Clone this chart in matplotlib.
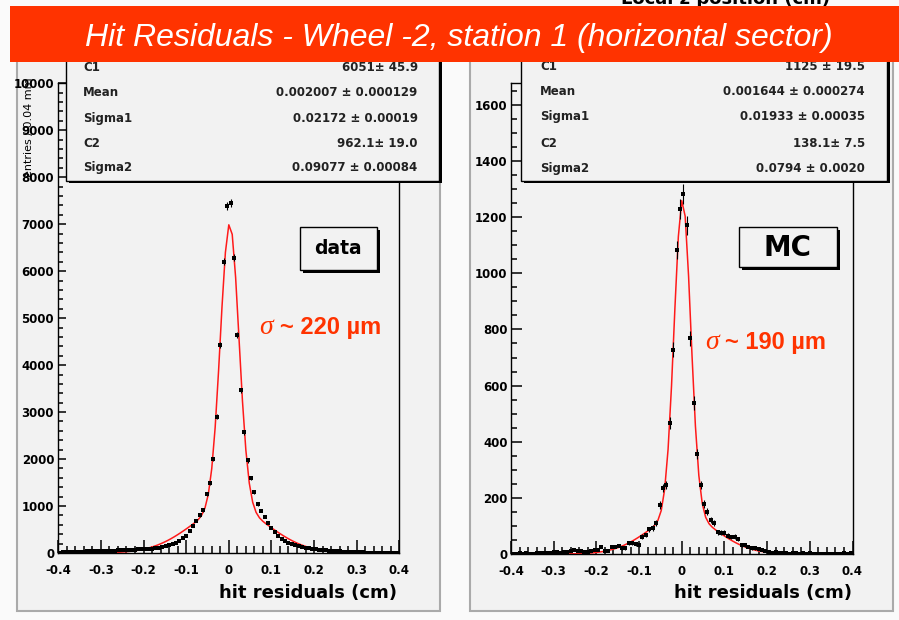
import numpy as np
import matplotlib
matplotlib.use("Agg")
import matplotlib.pyplot as plt
from matplotlib.patches import Rectangle
from matplotlib.ticker import MultipleLocator

# ---------------- data ----------------
bin_lo, bin_hi, n_bins = -0.4, 0.4, 100
bin_edges = np.linspace(bin_lo, bin_hi, n_bins + 1)
bin_centers = 0.5 * (bin_edges[:-1] + bin_edges[1:])

data_counts = [
    10, 15, 20, 20, 25, 25, 30, 30, 35, 35,
    35, 40, 40, 45, 45, 50, 50, 55, 55, 60,
    60, 65, 70, 75, 80, 85, 90, 95, 100, 110,
    122, 150, 165, 190, 220, 260, 310, 360, 470, 580,
    680, 800, 910, 1250, 1480, 2000, 2900, 4430, 6200, 7380,
    7460, 6290, 4640, 3460, 2570, 1970, 1590, 1290, 1040, 900,
    775, 633, 540, 440, 370, 305, 265, 215, 190, 170,
    150, 130, 115, 100, 90, 80, 70, 60, 55, 50,
    45, 40, 35, 30, 30, 25, 20, 20, 15, 15,
    10, 10, 5, 10, 5, 5, 5, 5, 5, 5,
]

mc_counts = [
    0, 0, 3, 0, 3, 0, 0, 3, 5, 5,
    5, 5, 8, 8, 5, 8, 8, 12, 14, 12,
    10, 8, 8, 10, 14, 14, 26, 12, 11, 26,
    26, 29, 20, 20, 38, 38, 35, 32, 62, 68,
    88, 92, 110, 175, 235, 246, 467, 728, 1083, 1228,
    1282, 1171, 768, 538, 356, 246, 179, 150, 121, 110,
    78, 76, 76, 65, 60, 62, 52, 32, 32, 26,
    20, 20, 17, 14, 10, 8, 5, 8, 5, 3,
    2, 0, 5, 3, 0, 2, 0, 3, 0, 0,
    0, 0, 0, 0, 0, 0, 0, 2, 0, 2,
]

# double-gaussian fit parameters (from the stat boxes)
data_fit = [6051.0, 0.002007, 0.02172, 962.1, 0.09077]   # C1, Mean, Sigma1, C2, Sigma2
mc_fit = [1125.0, 0.001644, 0.01933, 138.1, 0.0794]

stat_names = ["C1", "Mean", "Sigma1", "C2", "Sigma2"]
data_stat_vals = ["6051\u00b1 45.9", "0.002007 \u00b1 0.000129", "0.02172 \u00b1 0.00019",
                  "962.1\u00b1 19.0", "0.09077 \u00b1 0.00084"]
mc_stat_vals = ["1125 \u00b1 19.5", "0.001644 \u00b1 0.000274", "0.01933 \u00b1 0.00035",
                "138.1\u00b1 7.5", "0.0794 \u00b1 0.0020"]

title = "Hit Residuals - Wheel -2, station 1 (horizontal sector)"
x_label = "hit residuals (cm)"
y_label = "entries / 0.04 mm"

# ---------------- figure ----------------
W, H = 899, 620
fig = plt.figure(figsize=(W / 100, H / 100), dpi=100, facecolor="#fafafa")

def X(px):
    return px / W

def Y(py):
    return 1 - py / H

RED = "#ff3300"
PANEL = "#f2f2f2"

def rect(x0, y0, x1, y1, **kw):
    r = Rectangle((X(x0), Y(y1)), X(x1) - X(x0), Y(y0) - Y(y1), transform=fig.transFigure, **kw)
    fig.patches.append(r)
    return r

# canvas panels
rect(17, 12, 440, 611, facecolor=PANEL, edgecolor="#aaaaaa", lw=1.5, zorder=-2)
rect(470, 12, 893, 611, facecolor=PANEL, edgecolor="#aaaaaa", lw=1.5, zorder=-2)

def dgaus(x, p):
    c1, m, s1, c2, s2 = p
    return c1 * np.exp(-0.5 * ((x - m) / s1) ** 2) + c2 * np.exp(-0.5 * ((x - m) / s2) ** 2)

def style_axes(ax, ymax, ymaj, ymin, ylen):
    ax.set_facecolor(PANEL)
    ax.set_xlim(bin_lo, bin_hi)
    ax.set_ylim(0, ymax)
    ax.xaxis.set_major_locator(MultipleLocator(0.1))
    ax.xaxis.set_minor_locator(MultipleLocator(0.02))
    ax.yaxis.set_major_locator(MultipleLocator(ymaj))
    ax.yaxis.set_minor_locator(MultipleLocator(ymin))
    ax.tick_params(axis="x", which="major", direction="in", length=9.6, width=1.1, pad=8,
                   top=False, labelsize=8.5)
    ax.tick_params(axis="x", which="minor", direction="in", length=4.8, width=1.1, top=False)
    ax.tick_params(axis="y", which="major", direction="in", length=ylen, width=1.1, pad=3,
                   right=False, labelsize=8.5)
    ax.tick_params(axis="y", which="minor", direction="in", length=ylen * 0.55, width=1.1,
                   right=False)
    ax.xaxis.set_major_formatter(plt.FuncFormatter(lambda v, p: "0" if abs(v) < 1e-9 else f"{v:g}"))
    for s in ax.spines.values():
        s.set_linewidth(1.0)
        s.set_color("black")

def draw_panel(ax, counts, fit):
    counts = np.asarray(counts, dtype=float)
    ax.errorbar(bin_centers, counts, yerr=np.sqrt(counts), fmt="s", ms=2.6, mew=0,
                color="black", ecolor="black", elinewidth=0.8, capsize=0, zorder=3)
    xf = np.linspace(bin_lo, bin_hi, 101)
    ax.plot(xf, dgaus(xf, fit), color="#ff1a1a", lw=1.1, zorder=2)

axL = fig.add_axes([X(58.3), Y(553), X(399.3) - X(58.3), Y(83.3) - Y(553)])
draw_panel(axL, data_counts, data_fit)
style_axes(axL, 10000, 1000, 200, 6)
for lab in axL.get_xticklabels() + axL.get_yticklabels():
    lab.set_fontweight("bold")

axR = fig.add_axes([X(511), Y(554), X(852.5) - X(511), Y(83.3) - Y(554)])
draw_panel(axR, mc_counts, mc_fit)
style_axes(axR, 1677, 200, 50, 7.7)
axR.tick_params(axis="y", which="major", pad=2.5)
for lab in axR.get_xticklabels() + axR.get_yticklabels():
    lab.set_fontweight("bold")

# axis labels
fig.text(X(397.3), Y(593.3), x_label, ha="right", va="center", fontsize=13, fontweight="bold")
fig.text(X(851.7), Y(593.3), x_label, ha="right", va="center", fontsize=13, fontweight="bold")
fig.text(X(29), Y(127), y_label, ha="center", va="center", rotation=90, fontsize=8)

# stat boxes
def stat_box(x0, x1, y1, lab_x, val_x, rows_y, vals):
    rect(x0 + 2.5, 42.5, x1 + 2.5, y1 + 2.5, facecolor="black", edgecolor="black", lw=0, zorder=5)
    rect(x0, 40, x1, y1, facecolor=PANEL, edgecolor="black", lw=1.0, zorder=5.1)
    for name, val, yy in zip(stat_names, vals, rows_y):
        fig.text(X(lab_x), Y(yy), name, ha="left", va="center", fontsize=8.5,
                 fontweight="bold", color="#222222", zorder=6)
        fig.text(X(val_x), Y(yy), val, ha="right", va="center", fontsize=8.5,
                 fontweight="bold", color="#222222", zorder=6)

stat_box(66, 439, 181, 83, 417.7, [67.3, 92.7, 118.3, 143.3, 167.7], data_stat_vals)
stat_box(521, 887, 180.7, 540, 865, [66.7, 91.7, 116.7, 143.3, 168.3], mc_stat_vals)

# data / MC label boxes
def label_box(x0, y0, x1, y1, text, size, cx, cy):
    rect(x0 + 3, y0 + 3, x1 + 3, y1 + 3, facecolor="black", lw=0, zorder=5)
    rect(x0, y0, x1, y1, facecolor=PANEL, edgecolor="black", lw=1.0, zorder=5.1)
    fig.text(X(cx), Y(cy), text, ha="center", va="center", fontsize=size,
             fontweight="bold", zorder=6)

label_box(300, 227.3, 376.7, 270, "data", 13.5, 338.3, 249)
label_box(739.3, 226.7, 836.7, 267.3, "MC", 20, 787, 248)

# sigma annotations
def sigma_text(xs, xr, base, txt):
    fig.text(X(xs), Y(base), "\u03c3", ha="left", va="baseline", fontsize=20,
             family="Liberation Serif", style="italic", color=RED, zorder=6)
    fig.text(X(xr), Y(base), txt, ha="left", va="baseline", fontsize=17,
             family="Liberation Sans", fontweight="bold", color=RED, zorder=6)

sigma_text(259, 280, 334, "~ 220 \u00b5m")
sigma_text(705, 725, 349, "~ 190 \u00b5m")

# partially visible text at the top edge (cut off in the reference too)
fig.text(X(830), Y(4), "Local z position (cm)", ha="right", va="baseline", fontsize=13,
         fontweight="bold", zorder=1)

# title banner
rect(10, 6, 905, 62, facecolor=RED, edgecolor="none", zorder=10)
fig.text(X(459), Y(46), title, ha="center", va="baseline", fontsize=23,
         family="Liberation Sans", style="italic", color="white", zorder=11)

fig.savefig("out.png", dpi=100, facecolor=fig.get_facecolor())
